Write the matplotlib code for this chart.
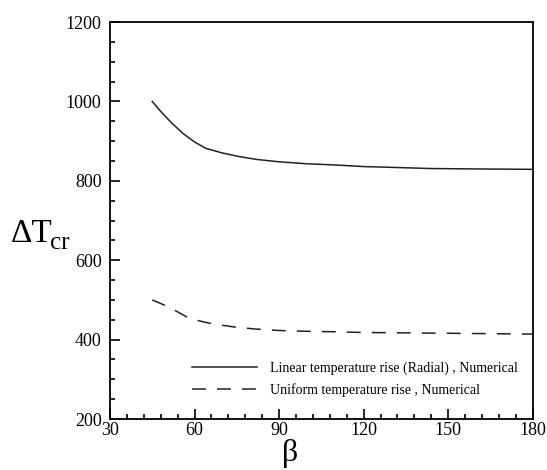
import matplotlib
matplotlib.use("Agg")
import matplotlib.pyplot as plt

# critical temperature difference vs. beta, read from the numerical runs
beta_linear = [45, 48, 52, 56, 60, 64, 70, 76, 82, 90, 100, 110, 120, 130, 144, 160, 180]
dT_linear = [1000, 975, 945, 919, 898, 882, 870, 861, 854, 848, 843, 840, 836, 834, 831, 830, 829]

beta_uniform = [45, 50, 54, 58, 63, 67, 74, 81, 90, 100, 108, 120, 150, 180]
dT_uniform = [500, 485, 470, 454, 445, 439, 432, 427, 423, 421, 420, 418, 416, 414]

label_linear = "Linear temperature rise (Radial) , Numerical"
label_uniform = "Uniform temperature rise , Numerical"

plt.rcParams['font.family'] = ['Liberation Serif', 'DejaVu Serif']
plt.rcParams['lines.scale_dashes'] = False

fig = plt.figure(figsize=(5.47, 4.70), dpi=100)
ax = fig.add_axes([0.201, 0.1085, 0.773, 0.8445])

ax.plot(beta_linear, dT_linear, color='#222222', lw=1.1, label=label_linear)
ax.plot(beta_uniform, dT_uniform, color='#222222', lw=1.1, dashes=(10, 8),
        label=label_uniform)

ax.set_xlim(30, 180)
ax.set_ylim(200, 1200)
ax.set_xticks([30, 60, 90, 120, 150, 180])
ax.set_xticks(range(30, 181, 6), minor=True)
ax.set_yticks([200, 400, 600, 800, 1000, 1200])
ax.set_yticks(range(200, 1201, 50), minor=True)

ax.tick_params(which='both', direction='in', width=1.2, labelsize=13)
ax.tick_params(which='major', length=7)
ax.tick_params(which='minor', length=3.6)
ax.tick_params(axis='y', pad=6)
ax.tick_params(axis='x', pad=2)
for s in ax.spines.values():
    s.set_linewidth(1.3)

# axis titles
fig.text(0.53, 0.019, "β", fontsize=23, ha='center', va='baseline')
fig.text(0.02, 0.485, "ΔT", fontsize=24, ha='left', va='baseline')
fig.text(0.092, 0.47, "cr", fontsize=18, ha='left', va='baseline')

ax.legend(loc='lower left', bbox_to_anchor=(0.165, 0.025), frameon=False,
          fontsize=10, handlelength=4.7, handletextpad=0.9, labelspacing=0.55)

fig.savefig("out.png", dpi=100)
